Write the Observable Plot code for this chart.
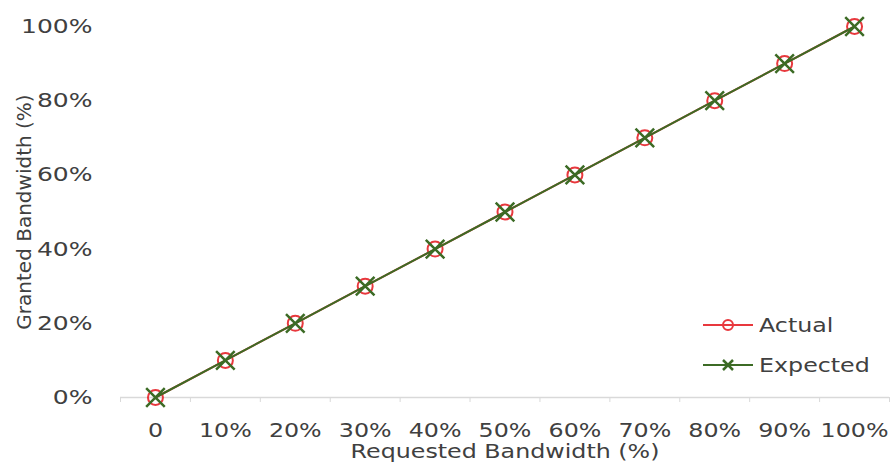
<!DOCTYPE html>
<html>
<head>
<meta charset="utf-8">
<script src="https://cdn.jsdelivr.net/npm/d3@7"></script>
<script src="https://cdn.jsdelivr.net/npm/@observablehq/plot@0.6"></script>
<style>
  body { margin: 0; background: #fff; }
  #wrap { position: relative; width: 893px; height: 468px; font-family: "DejaVu Sans", sans-serif; }
  #legend { position: absolute; left: 703px; top: 305px; font-size: 19px; color: #404040; }
  #legend div { display: flex; align-items: center; height: 40px; }
  #legend svg { margin-right: 4px; }
  #legend span { display: inline-block; transform: scaleX(1.25); transform-origin: left center; }
</style>
</head>
<body>
<div id="wrap">
  <div id="chart"></div>
  <div id="legend"></div>
</div>
<script>
const requested = [0, 10, 20, 30, 40, 50, 60, 70, 80, 90, 100];
const actual    = [0, 10, 20, 30, 40, 50, 60, 70, 80, 90, 100];
const expected  = [0, 10, 20, 30, 40, 50, 60, 70, 80, 90, 100];
const yTicks = [0, 20, 40, 60, 80, 100];
const boundaryTicks = [-5, 5, 15, 25, 35, 45, 55, 65, 75, 85, 95, 105];
const seriesNames = ["Actual", "Expected"];
const seriesColors = ["#e8383d", "#3c6b25"];

const actualData = requested.map((r, i) => ({x: r, y: actual[i]}));
const expectedData = requested.map((r, i) => ({x: r, y: expected[i]}));

const chart = Plot.plot({
  width: 893,
  height: 468,
  marginLeft: 120,
  marginRight: 4,
  marginTop: 26,
  marginBottom: 71,
  style: {fontFamily: "DejaVu Sans, sans-serif", fontSize: "19px", color: "#404040", background: "#fff"},
  x: {domain: [-5, 105]},
  y: {domain: [0, 100]},
  marks: [
    Plot.ruleY([0], {stroke: "#d9d9d9", strokeWidth: 1.5}),
    Plot.axisX(boundaryTicks, {tickSize: 5, stroke: "#d9d9d9", tickFormat: () => "", label: null}),
    Plot.axisX(requested, {tickSize: 0, tickPadding: 26, tickFormat: d => d === 0 ? "0" : d + "%",
      label: "Requested Bandwidth (%)", labelAnchor: "center", labelOffset: 60, labelArrow: "none"}),
    Plot.axisY(yTicks, {tickSize: 0, tickPadding: 28, tickFormat: d => d + "%",
      label: "Granted Bandwidth (%)", labelAnchor: "center", labelOffset: 104, labelArrow: "none", fontSize: 20}),
    Plot.line(actualData, {x: "x", y: "y", stroke: seriesColors[0], strokeWidth: 2}),
    Plot.dot(actualData, {x: "x", y: "y", r: 7.5, stroke: seriesColors[0], strokeWidth: 2, fill: "none"}),
    Plot.line(expectedData, {x: "x", y: "y", stroke: seriesColors[1], strokeWidth: 2}),
    Plot.dot(expectedData, {x: "x", y: "y", r: 8.5, symbol: "times", stroke: seriesColors[1], strokeWidth: 2.5})
  ]
});
document.getElementById("chart").appendChild(chart);

// stretch horizontal text glyphs to match the reference's wide lettering
chart.querySelectorAll("text").forEach(t => {
  const tr = (t.getAttribute("transform") || "") + (t.parentNode.getAttribute("transform") || "");
  if (tr.includes("rotate")) return;
  const len = t.getComputedTextLength();
  if (len > 0) {
    t.setAttribute("textLength", (len * 1.25).toFixed(1));
    t.setAttribute("lengthAdjust", "spacingAndGlyphs");
  }
});

const legend = document.getElementById("legend");
seriesNames.forEach((name, i) => {
  const row = document.createElement("div");
  const marker = i === 0
    ? `<circle cx="25" cy="10" r="5" fill="none" stroke="${seriesColors[i]}" stroke-width="2"/>`
    : `<path d="M20,5L30,15M30,5L20,15" stroke="${seriesColors[i]}" stroke-width="2.5"/>`;
  row.innerHTML = `<svg width="52" height="20"><line x1="0" x2="50" y1="10" y2="10" stroke="${seriesColors[i]}" stroke-width="2"/>${marker}</svg><span>${name}</span>`;
  legend.appendChild(row);
});
</script>
</body>
</html>
